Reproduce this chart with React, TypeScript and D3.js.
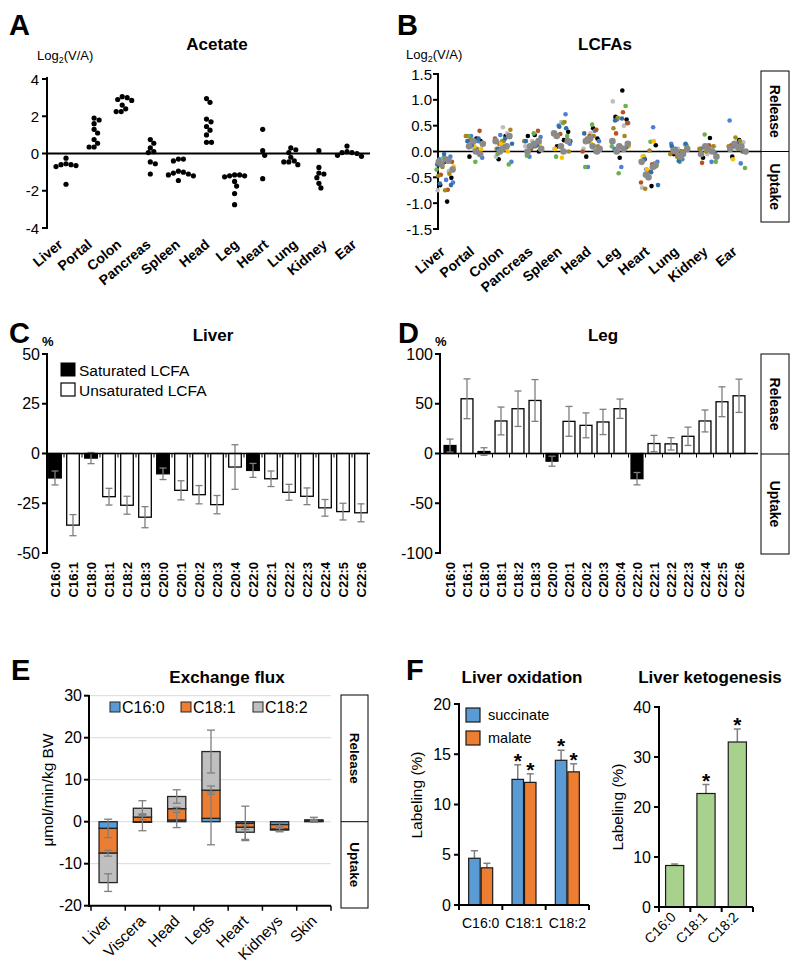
import React from 'react';
import * as d3 from 'd3';

const FONT = "'Liberation Sans', Arial, Helvetica, sans-serif";

// ---------- Panel A / B ----------
const tissues = ['Liver', 'Portal', 'Colon', 'Pancreas', 'Spleen', 'Head', 'Leg', 'Heart', 'Lung', 'Kidney', 'Ear'];
const acetateTicks = [4, 2, 0, -2, -4];
const acetateValues = [
  [-0.25, -0.55, -0.6, -0.65, -0.7, -0.6, -1.65],
  [1.9, 1.6, 1.8, 1.3, 1.1, 0.75, 0.55, 0.35, 0.35],
  [3.05, 2.9, 2.85, 3.0, 2.4, 2.25, 2.25, 2.6],
  [0.75, 0.55, 0.3, 0.1, 0.05, -0.45, -0.55, -1.1],
  [-0.3, -0.4, -0.3, -0.95, -1.0, -1.05, -1.15, -1.2, -1.45, -1.1],
  [2.95, 2.75, 1.85, 1.7, 1.45, 1.25, 1.0, 0.6, 0.6],
  [-1.15, -1.2, -1.25, -1.2, -1.15, -1.5, -1.75, -2.15, -2.75],
  [1.3, 0.15, -0.1, -1.35],
  [0.3, 0.2, 0.05, -0.2, -0.4, -0.45, -0.6, -0.45],
  [0.15, -0.75, -1.05, -1.1, -1.3, -1.6, -1.85],
  [0.4, 0.1, 0.05, 0.0, -0.1, -0.15, 0.05],
];

const lcfaTicks = [1.5, 1.0, 0.5, 0.0, -0.5, -1.0, -1.5];
const lcfaBlack = [[-0.97, -0.65, -0.51, -0.2], [0.25, -0.1, 0.2], [0.3, -0.15, 0.28], [0.32, 0.3, 0.0], [0.22, 0.1, 0.38], [0.45, -0.1, 0.25], [1.18, 0.67, 0.62, -0.12], [-0.67, -0.15, 0.12], [0.0, -0.05], [0.26, -0.12], [0.22, -0.1]];
const lcfaLightGray = [[-0.75, -0.38, -0.2], [0.05, 0.3], [0.47, -0.1, 0.35], [0.2, 0.1], [0.57, 0.05], [0.35, 0.05], [0.97, 0.5], [-0.5, -0.7], [0.13, 0.05], [0.1, -0.05], [0.18, 0.05]];
const lcfaBlue = [[-0.6, -0.55, -0.15, -0.1], [0.2, 0.3, -0.12], [0.32, -0.2, 0.1], [0.15, -0.1, 0.28], [0.72, 0.5, 0.15], [0.4, -0.3, 0.2], [0.62, 0.55, -0.3, 0.05], [0.47, -0.35, -0.2], [0.15, -0.15, 0.05], [0.05, -0.2], [0.6, -0.23, 0.1]];
const lcfaGreen = [[-0.12, -0.35], [-0.2, 0.3], [-0.05, -0.25, 0.2], [0.35, -0.08], [0.55, -0.1, 0.3], [0.52, -0.3], [0.88, -0.42, 0.1], [0.19, -0.1, -0.3], [0.12, -0.2], [0.33, -0.2], [-0.32, 0.05]];
const lcfaBrown = [[-0.74, -0.45, -0.2], [0.4, 0.15], [0.25, 0.1, 0.15], [0.4, 0.05], [0.34, 0.35], [0.42, 0.3, 0.0], [0.76, 0.35, 0.55, 0.1], [-0.38, -0.6, -0.25], [-0.02, 0.0], [0.12, -0.22], [0.12, 0.0]];
const lcfaGold = [[-0.75, -0.47, -0.43, -0.3], [0.3, 0.05, 0.22], [0.42, 0.2, 0.05], [0.2, 0.1, 0.0], [0.57, 0.3, 0.0], [0.3, 0.25, 0.1], [0.45, 0.3, 0.65], [-0.72, -0.28, 0.02], [-0.1, -0.05, 0.0], [0.1, 0.0, 0.05], [0.27, 0.1, 0.2]];
const lcfaYellow = [[-0.29, -0.15], [0.05, 0.1], [0.0, 0.15], [0.15], [-0.12, 0.05], [0.15], [0.1], [-0.1, 0.2, -0.35], [0.02], [0.02], [-0.15]];
const lcfaDarkBlue = [[-0.62, -0.65, -0.05, -0.25], [0.2, 0.25, 0.12], [0.15, 0.25, 0.05], [0.1, 0.2, 0.12], [0.45, 0.48, 0.2], [0.35, 0.0, 0.2], [0.64, 0.6, 0.08], [-0.65, -0.4, -0.15], [0.15, -0.18, 0.1], [0.08, -0.02], [0.0, 0.15]];
const lcfaGray = [[-0.18, -0.25, -0.35, -0.15, -0.2], [0.15, 0.0, 0.1, -0.05, 0.2], [0.3, 0.05, 0.2, 0.1, 0.0], [0.1, 0.05, 0.15, 0.0, 0.2], [0.0, 0.3, 0.2, 0.1, 0.35], [0.05, 0.1, 0.2, 0.0, 0.25], [0.1, 0.2, 0.05, 0.0, 0.15], [-0.25, -0.5, -0.2, -0.3, -0.45], [-0.05, 0.0, 0.05, -0.1, 0.02], [0.05, -0.05, 0.0, 0.1, -0.1], [0.05, 0.1, 0.15, 0.0, 0.08]];
const lcfaGroups = [lcfaBlack, lcfaLightGray, lcfaBlue, lcfaGreen, lcfaBrown, lcfaGold, lcfaYellow, lcfaDarkBlue, lcfaGray];
const lcfaColors = ['#000000', '#BDBDBD', '#4A80D6', '#6AB04C', '#B5541C', '#A8861E', '#FFC000', '#2F6EA8', '#8A8A8A'];

// ---------- Panel C / D ----------
const fattyAcids = ['C16:0', 'C16:1', 'C18:0', 'C18:1', 'C18:2', 'C18:3', 'C20:0', 'C20:1', 'C20:2', 'C20:3', 'C20:4', 'C22:0', 'C22:1', 'C22:2', 'C22:3', 'C22:4', 'C22:5', 'C22:6'];
const saturatedFAs = ['C16:0', 'C18:0', 'C20:0', 'C22:0'];
const liverPct = [-12.3, -36, -2.3, -21.7, -26, -32, -10.2, -18.5, -20.7, -25.7, -6.8, -8.5, -12.7, -19.5, -21.5, -27.3, -29.2, -29.8];
const liverErr = [3.5, 5.3, 2.8, 4.2, 4.5, 5.3, 2.9, 4.8, 4.6, 4.6, 11.2, 3.5, 3.9, 4.0, 4.2, 4.2, 4.2, 4.5];
const liverTicks = [50, 25, 0, -25, -50];
const legPct = [8, 55, 2, 32.7, 45, 53.3, -7.7, 32.3, 28.3, 31.7, 45, -25.3, 10, 9.7, 17.3, 32.7, 52, 58];
const legErr = [6.5, 20, 3.8, 14, 17.8, 21, 5, 15, 12.5, 12.7, 9.7, 6.2, 8.2, 6.2, 9.2, 11, 15, 16.7];
const legTicks = [100, 50, 0, -50, -100];

// ---------- Panel E ----------
const fluxOrgans = ['Liver', 'Viscera', 'Head', 'Legs', 'Heart', 'Kidneys', 'Skin'];
const fluxSeries = ['C16:0', 'C18:1', 'C18:2'];
const fluxC160 = [-1.6, -0.15, 0.4, 0.8, -0.4, -0.7, 0.1];
const fluxC181 = [-5.9, 1.1, 2.7, 6.7, -0.95, -1.1, 0.15];
const fluxC182 = [-7.0, 2.1, 2.9, 9.2, -1.15, -0.2, 0.2];
const fluxC160Err = [2.2, 2.0, 1.8, 6.3, 4.1, 0.3, 0.2];
const fluxC181Err = [0.7, 0.6, 0.3, 1.0, 0.5, 0.4, 0.3];
const fluxC182Err = [2.1, 1.8, 1.6, 5.1, 1.7, 0.4, 0.6];
const fluxTicks = [30, 20, 10, 0, -10, -20];
const fluxColors = ['#5B9BD5', '#ED7D31', '#BFBFBF'];

// ---------- Panel F ----------
const oxFAs = ['C16:0', 'C18:1', 'C18:2'];
const oxSeries = ['succinate', 'malate'];
const succinate = [4.65, 12.5, 14.4];
const succinateErr = [0.75, 1.45, 1.0];
const malate = [3.7, 12.2, 13.25];
const malateErr = [0.45, 0.85, 0.8];
const succinateSig = [false, true, true];
const malateSig = [false, true, true];
const oxTicks = [0, 5, 10, 15, 20];
const ketogenesis = [8.3, 22.7, 33.0];
const ketogenesisErr = [0.3, 1.8, 2.6];
const ketogenesisSig = [false, true, true];
const ketoTicks = [0, 10, 20, 30, 40];
const oxColors = ['#5B9BD5', '#ED7D31'];

const ERR = '#7F7F7F';

function swarmOffsets(values: number[], y: (v: number) => number, r: number, gap: number) {
  const d = 2 * r + gap;
  const placed: [number, number][] = [];
  const res: number[] = new Array(values.length).fill(0);
  const order = d3.range(values.length).sort((a, b) => d3.descending(values[a], values[b]));
  for (const i of order) {
    const py = y(values[i]);
    for (let s = 0; s < 400; s++) {
      const cand = s === 0 ? 0 : (s % 2 ? 1 : -1) * Math.ceil(s / 2) * 0.5;
      if (placed.every(([px, qy]) => (px - cand) ** 2 + (qy - py) ** 2 >= d * d)) {
        res[i] = cand;
        placed.push([cand, py]);
        break;
      }
    }
  }
  return res;
}

function Letter({ x, y, t }: { x: number; y: number; t: string }) {
  return <text x={x} y={y} fontSize={29} fontWeight="bold">{t}</text>;
}

function SideBox({ x0, x1, yTop, yMid, yBot, fs }: any) {
  return (
    <g>
      <rect x={x0} y={yTop} width={x1 - x0} height={yBot - yTop} fill="#fff" stroke="#000" strokeWidth={1} />
      <line x1={x0} x2={x1} y1={yMid} y2={yMid} stroke="#000" strokeWidth={1} />
      <text transform={`translate(${(x0 + x1) / 2},${(yTop + yMid) / 2}) rotate(90)`} textAnchor="middle" dominantBaseline="central" fontWeight="bold" fontSize={fs}>Release</text>
      <text transform={`translate(${(x0 + x1) / 2},${(yMid + yBot) / 2}) rotate(90)`} textAnchor="middle" dominantBaseline="central" fontWeight="bold" fontSize={fs}>Uptake</text>
    </g>
  );
}

function LogLabel({ x, y }: { x: number; y: number }) {
  return (
    <text x={x} y={y} fontSize={13}>
      Log<tspan dy={3} fontSize={9}>2</tspan><tspan dy={-3}>(V/A)</tspan>
    </text>
  );
}

function PanelA() {
  const x = d3.scalePoint().domain(tissues).range([66, 347]);
  const xl = d3.scaleBand().domain(tissues).range([47, 370]);
  const y = d3.scaleLinear().domain([-4, 4]).range([228, 79]);
  const r = 2.6;
  return (
    <g>
      <Letter x={9} y={35} t="A" />
      <text x={217} y={50} textAnchor="middle" fontSize={17} fontWeight="bold">Acetate</text>
      <LogLabel x={37} y={60} />
      <line x1={47} x2={47} y1={77} y2={229} stroke="#000" strokeWidth={2} />
      {acetateTicks.map(t => (
        <g key={t}>
          <line x1={42} x2={47} y1={y(t)} y2={y(t)} stroke="#000" strokeWidth={2} />
          <text x={39} y={y(t)} textAnchor="end" dominantBaseline="central" fontSize={15}>{t}</text>
        </g>
      ))}
      <line x1={47} x2={370} y1={y(0)} y2={y(0)} stroke="#000" strokeWidth={2} />
      {tissues.map((tis, i) => {
        const offs = swarmOffsets(acetateValues[i], y, r, -0.3);
        return (
          <g key={tis}>
            {acetateValues[i].map((v, j) => (
              <circle key={j} cx={(x(tis) as number) + offs[j]} cy={y(v)} r={r} fill="#000" />
            ))}
            <text transform={`translate(${(xl(tis) as number) + xl.bandwidth() / 2 + 2},246) rotate(-40)`} textAnchor="end" fontSize={14} fontWeight="bold">{tis}</text>
          </g>
        );
      })}
    </g>
  );
}

function PanelB() {
  const x = d3.scalePoint().domain(tissues).range([445, 737]);
  const y = d3.scaleLinear().domain([-1.5, 1.5]).range([229, 74]);
  const pts: { t: number; c: number; v: number; k: number }[] = [];
  const counter = tissues.map(() => 0);
  lcfaGroups.forEach((grp, c) => {
    grp.forEach((vals, t) => {
      vals.forEach(v => {
        pts.push({ t, c, v, k: counter[t]++ });
      });
    });
  });
  const jitter = (k: number) => ((((k + 1) * 0.6180339887) % 1) - 0.5) * 18;
  return (
    <g>
      <Letter x={397} y={35} t="B" />
      <text x={605} y={50} textAnchor="middle" fontSize={17} fontWeight="bold">LCFAs</text>
      <LogLabel x={406} y={59} />
      <line x1={438} x2={438} y1={73} y2={230} stroke="#000" strokeWidth={2} />
      {lcfaTicks.map(t => (
        <g key={t}>
          <line x1={433} x2={438} y1={y(t)} y2={y(t)} stroke="#000" strokeWidth={2} />
          <text x={432} y={y(t)} textAnchor="end" dominantBaseline="central" fontSize={15}>{t.toFixed(1)}</text>
        </g>
      ))}
      <line x1={438} x2={761} y1={y(0)} y2={y(0)} stroke="#000" strokeWidth={1.5} />
      {pts.map((p, i) => (
        <circle key={i} cx={(x(tissues[p.t]) as number) + jitter(p.k)} cy={y(p.v)} r={p.c === 8 ? 3.3 : 2.3} fill={lcfaColors[p.c]} />
      ))}
      {tissues.map(tis => (
        <text key={tis} transform={`translate(${(x(tis) as number) + 1},253) rotate(-40)`} textAnchor="end" fontSize={14} fontWeight="bold">{tis}</text>
      ))}
      <SideBox x0={761} x1={789} yTop={71} yMid={y(0)} yBot={222} fs={14} />
    </g>
  );
}

function PctPanel({ values, errs, range, axisEnd, domain, ticks, axisX, title, titleX, letter, letterX, legend }: any) {
  const x = d3.scaleBand().domain(fattyAcids).range(range).paddingInner(0.3).paddingOuter(0.15);
  const y = d3.scaleLinear().domain(domain).range([553, 354]);
  const bw = x.bandwidth();
  return (
    <g>
      <Letter x={letterX} y={343} t={letter} />
      <text x={titleX} y={341} textAnchor="middle" fontSize={17} fontWeight="bold">{title}</text>
      <text x={axisX - 5} y={346} fontSize={13} fontWeight="bold">%</text>
      <line x1={axisX} x2={axisX} y1={353} y2={554} stroke="#000" strokeWidth={2} />
      {ticks.map((t: number) => (
        <g key={t}>
          <line x1={axisX - 5} x2={axisX} y1={y(t)} y2={y(t)} stroke="#000" strokeWidth={2} />
          <text x={axisX - 7} y={y(t)} textAnchor="end" dominantBaseline="central" fontSize={16}>{t}</text>
        </g>
      ))}
      {fattyAcids.map((fa, i) => {
        const x0 = x(fa) as number;
        const v = values[i];
        const e = errs[i];
        const cx = x0 + bw / 2;
        return (
          <g key={fa}>
            <rect x={x0} y={y(Math.max(0, v))} width={bw} height={Math.abs(y(v) - y(0))} fill={saturatedFAs.includes(fa) ? '#000' : '#fff'} stroke="#000" strokeWidth={1.3} />
            <line x1={cx} x2={cx} y1={y(v - e)} y2={y(v + e)} stroke={ERR} strokeWidth={1.3} />
            <line x1={cx - 3.5} x2={cx + 3.5} y1={y(v - e)} y2={y(v - e)} stroke={ERR} strokeWidth={1.3} />
            <line x1={cx - 3.5} x2={cx + 3.5} y1={y(v + e)} y2={y(v + e)} stroke={ERR} strokeWidth={1.3} />
            <text transform={`translate(${cx},562) rotate(-90)`} textAnchor="end" dominantBaseline="central" fontSize={13} fontWeight="bold">{fa}</text>
          </g>
        );
      })}
      <line x1={axisX} x2={axisEnd} y1={y(0)} y2={y(0)} stroke="#000" strokeWidth={1.5} />
      {fattyAcids.slice(1).map(fa => (
        <line key={fa} x1={(x(fa) as number) - x.step() * 0.15} x2={(x(fa) as number) - x.step() * 0.15} y1={y(0)} y2={y(0) + 4} stroke="#000" strokeWidth={1} />
      ))}
      {legend && (
        <g fontSize={15.5}>
          <rect x={61} y={363} width={14} height={13} fill="#000" stroke="#000" />
          <text x={79} y={376}>Saturated LCFA</text>
          <rect x={61} y={383} width={14} height={13} fill="#fff" stroke="#000" strokeWidth={1.2} />
          <text x={79} y={396}>Unsaturated LCFA</text>
        </g>
      )}
    </g>
  );
}

function PanelE() {
  const x = d3.scaleBand().domain(fluxOrgans).range([91, 331]).paddingInner(0.47).paddingOuter(0.235);
  const y = d3.scaleLinear().domain([-20, 30]).range([905.7, 695.7]);
  const rows = fluxOrgans.map((o, i) => ({ organ: o, 'C16:0': fluxC160[i], 'C18:1': fluxC181[i], 'C18:2': fluxC182[i] }));
  const stack = d3.stack<any>().keys(fluxSeries).offset(d3.stackOffsetDiverging)(rows);
  const errs = [fluxC160Err, fluxC181Err, fluxC182Err];
  const bw = x.bandwidth();
  return (
    <g>
      <Letter x={11} y={680} t="E" />
      <text x={227} y={683} textAnchor="middle" fontSize={17} fontWeight="bold">Exchange flux</text>
      <text transform="translate(47,790) rotate(-90)" textAnchor="middle" dominantBaseline="central" fontSize={15.5}>μmol/min/kg BW</text>
      {fluxTicks.filter(t => t > -20).map(t => (
        <line key={'g' + t} x1={89} x2={331} y1={y(t)} y2={y(t)} stroke="#D9D9D9" strokeWidth={1} />
      ))}
      <line x1={89} x2={89} y1={695} y2={907} stroke="#000" strokeWidth={2} />
      {fluxTicks.map(t => (
        <g key={t}>
          <line x1={84} x2={89} y1={y(t)} y2={y(t)} stroke="#000" strokeWidth={2} />
          <text x={82} y={y(t)} textAnchor="end" dominantBaseline="central" fontSize={16}>{t}</text>
        </g>
      ))}
      {stack.map((s, si) => (
        <g key={s.key}>
          {s.map((d: any, i: number) => (
            <rect key={i} x={x(fluxOrgans[i])} y={y(d[1])} width={bw} height={Math.max(0, y(d[0]) - y(d[1]))} fill={fluxColors[si]} stroke="#262626" strokeWidth={1.3} />
          ))}
        </g>
      ))}
      {stack.map((s, si) => (
        <g key={'e' + s.key}>
          {s.map((d: any, i: number) => {
            const v = (rows[i] as any)[s.key];
            const end = v >= 0 ? d[1] : d[0];
            const e = errs[si][i];
            const cx = (x(fluxOrgans[i]) as number) + bw / 2;
            return (
              <g key={i} stroke={ERR} strokeWidth={1.3}>
                <line x1={cx} x2={cx} y1={y(end - e)} y2={y(end + e)} />
                <line x1={cx - 4} x2={cx + 4} y1={y(end - e)} y2={y(end - e)} />
                <line x1={cx - 4} x2={cx + 4} y1={y(end + e)} y2={y(end + e)} />
              </g>
            );
          })}
        </g>
      ))}
      <line x1={89} x2={331} y1={y(-20)} y2={y(-20)} stroke="#000" strokeWidth={2} />
      {fluxOrgans.map(o => (
        <line key={'t' + o} x1={(x(o) as number) - x.step() * 0.235} x2={(x(o) as number) - x.step() * 0.235} y1={y(-20)} y2={y(-20) + 5} stroke="#000" strokeWidth={1.5} />
      ))}
      <line x1={331} x2={331} y1={y(-20)} y2={y(-20) + 5} stroke="#000" strokeWidth={1.5} />
      {fluxOrgans.map(o => (
        <text key={'l' + o} transform={`translate(${(x(o) as number) + bw / 2 + 4},922) rotate(-45)`} textAnchor="end" fontSize={15.5}>{o}</text>
      ))}
      {fluxSeries.map((s, i) => {
        const lx = [110, 181, 253][i];
        return (
          <g key={'lg' + s}>
            <rect x={lx} y={702} width={10} height={10} fill={fluxColors[i]} stroke="#262626" strokeWidth={1} />
            <text x={lx + 12} y={713} fontSize={16}>{s}</text>
          </g>
        );
      })}
      <SideBox x0={341} x1={368} yTop={695} yMid={y(0)} yBot={908} fs={13.5} />
    </g>
  );
}

function Star({ x, yTop }: { x: number; yTop: number }) {
  return <text x={x} y={yTop + 11} textAnchor="middle" fontSize={21} fontWeight="bold">*</text>;
}

function PanelF() {
  const x = d3.scaleBand().domain(oxFAs).range([459, 589]);
  const y = d3.scaleLinear().domain([0, 20]).range([905, 704]);
  const series = [
    { vals: succinate, errs: succinateErr, sig: succinateSig },
    { vals: malate, errs: malateErr, sig: malateSig },
  ];
  const xk = d3.scaleBand().domain(oxFAs).range([659, 753]).paddingInner(0.42).paddingOuter(0.21);
  const yk = d3.scaleLinear().domain([0, 40]).range([907, 707]);
  return (
    <g>
      <Letter x={406} y={680} t="F" />
      <text x={522} y={683} textAnchor="middle" fontSize={17} fontWeight="bold">Liver oxidation</text>
      <text x={710} y={683} textAnchor="middle" fontSize={17} fontWeight="bold">Liver ketogenesis</text>
      {/* left */}
      <text transform="translate(416,795) rotate(-90)" textAnchor="middle" dominantBaseline="central" fontSize={15.5}>Labeling (%)</text>
      <line x1={459} x2={459} y1={703} y2={906} stroke="#000" strokeWidth={2} />
      {oxTicks.map(t => (
        <g key={t}>
          <line x1={454} x2={459} y1={y(t)} y2={y(t)} stroke="#000" strokeWidth={2} />
          <text x={451} y={y(t)} textAnchor="end" dominantBaseline="central" fontSize={16}>{t}</text>
        </g>
      ))}
      {oxFAs.map(fa => {
        const c = (x(fa) as number) + x.bandwidth() / 2;
        const sub = d3.scaleBand().domain(oxSeries).range([c - 12, c + 12]).paddingInner(0.08);
        return (
          <g key={fa}>
            {series.map((s, si) => {
              const i = oxFAs.indexOf(fa);
              const bx = sub(oxSeries[si]) as number;
              const cx = bx + sub.bandwidth() / 2;
              const top = y(s.vals[i] + s.errs[i]);
              return (
                <g key={si}>
                  <line x1={cx} x2={cx} y1={y(s.vals[i])} y2={top} stroke={ERR} strokeWidth={1.5} />
                  <line x1={cx - 3.5} x2={cx + 3.5} y1={top} y2={top} stroke={ERR} strokeWidth={1.5} />
                  <rect x={bx} y={y(s.vals[i])} width={sub.bandwidth()} height={y(0) - y(s.vals[i])} fill={oxColors[si]} stroke="#1a1a1a" strokeWidth={1.2} />
                  {s.sig[i] && <Star x={cx} yTop={top - 8} />}
                </g>
              );
            })}
            <text x={c} y={928} textAnchor="middle" fontSize={14}>{fa}</text>
          </g>
        );
      })}
      <line x1={459} x2={589} y1={905} y2={905} stroke="#000" strokeWidth={2} />
      {[...oxFAs.map(fa => x(fa) as number), 589].map((tx, i) => (
        <line key={'tk' + i} x1={tx} x2={tx} y1={905} y2={910} stroke="#000" strokeWidth={2} />
      ))}
      {oxSeries.map((s, i) => (
        <g key={s}>
          <rect x={466} y={708 + i * 23} width={14} height={14} fill={oxColors[i]} stroke="#1a1a1a" strokeWidth={1.2} />
          <text x={488} y={720 + i * 23} fontSize={14.5}>{s}</text>
        </g>
      ))}
      {/* right */}
      <text transform="translate(617,807) rotate(-90)" textAnchor="middle" dominantBaseline="central" fontSize={15.5}>Labeling (%)</text>
      <line x1={659} x2={659} y1={706} y2={908} stroke="#000" strokeWidth={2} />
      {ketoTicks.map(t => (
        <g key={t}>
          <line x1={654} x2={659} y1={yk(t)} y2={yk(t)} stroke="#000" strokeWidth={2} />
          <text x={651} y={yk(t)} textAnchor="end" dominantBaseline="central" fontSize={16}>{t}</text>
        </g>
      ))}
      {oxFAs.map((fa, i) => {
        const bx = xk(fa) as number;
        const cx = bx + xk.bandwidth() / 2;
        const top = yk(ketogenesis[i] + ketogenesisErr[i]);
        return (
          <g key={fa}>
            <line x1={cx} x2={cx} y1={yk(ketogenesis[i])} y2={top} stroke={ERR} strokeWidth={1.5} />
            <line x1={cx - 3.5} x2={cx + 3.5} y1={top} y2={top} stroke={ERR} strokeWidth={1.5} />
            <rect x={bx} y={yk(ketogenesis[i])} width={xk.bandwidth()} height={yk(0) - yk(ketogenesis[i])} fill="#A9D18E" stroke="#1a1a1a" strokeWidth={1.2} />
            {ketogenesisSig[i] && <Star x={cx} yTop={top - 8} />}
            <text transform={`translate(${cx + 2},918) rotate(-45)`} textAnchor="end" fontSize={14}>{fa}</text>
          </g>
        );
      })}
      <line x1={659} x2={753} y1={907} y2={907} stroke="#000" strokeWidth={2} />
      {[659, ...oxFAs.map(fa => (xk(fa) as number) + xk.bandwidth() + xk.step() * 0.21)].map((tx, i) => (
        <line key={'tk2' + i} x1={tx} x2={tx} y1={907} y2={912} stroke="#000" strokeWidth={2} />
      ))}
    </g>
  );
}

export default function App() {
  return (
    <svg width={800} height={974} viewBox="0 0 800 974" style={{ position: 'absolute', left: 0, top: 0, background: '#fff' }} fontFamily={FONT}>
      <rect x={0} y={0} width={800} height={974} fill="#fff" />
      <PanelA />
      <PanelB />
      <PctPanel values={liverPct} errs={liverErr} range={[46, 370]} axisEnd={370} domain={[-50, 50]} ticks={liverTicks} axisX={47} title="Liver" titleX={213} letter="C" letterX={9} legend />
      <PctPanel values={legPct} errs={legErr} range={[441.5, 747.5]} axisEnd={758} domain={[-100, 100]} ticks={legTicks} axisX={440} title="Leg" titleX={603} letter="D" letterX={398} legend={false} />
      <SideBox x0={761} x1={789} yTop={354} yMid={454} yBot={554} fs={14} />
      <PanelE />
      <PanelF />
    </svg>
  );
}
